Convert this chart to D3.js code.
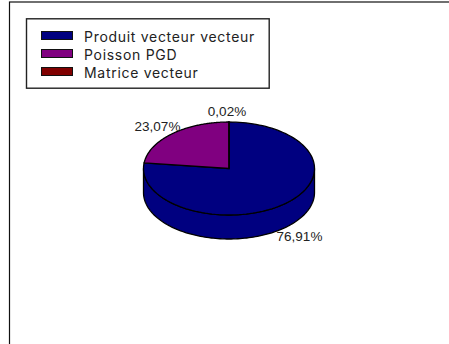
<!DOCTYPE html>
<html><head><meta charset="utf-8">
<script src="https://cdn.jsdelivr.net/npm/d3@7/dist/d3.min.js"></script>
<style>html,body{margin:0;padding:0;background:#fff}svg{display:block}</style>
</head><body><svg id="c" width="449" height="344"></svg>
<script>
const categories = ["Produit vecteur vecteur", "Poisson PGD", "Matrice vecteur"];
const seriesValues = [76.91, 23.07, 0.02];
const percentLabels = ["76,91%", "23,07%", "0,02%"];
const colors = ["#000080", "#800080", "#800000"];

const svg = d3.select("#c");
const font = "'Liberation Sans', Arial, sans-serif";
svg.append("rect").attr("x",9.5).attr("y",2).attr("width",445).attr("height",350)
  .attr("fill","#fff").attr("stroke","#111").attr("stroke-width",1.2);

// legend
const lg = svg.append("g");
lg.append("rect").attr("x",26.5).attr("y",18.8).attr("width",242.7).attr("height",69.4)
  .attr("fill","#fff").attr("stroke","#222").attr("stroke-width",1.4);
const ly = d3.scalePoint().domain(categories).range([35.5,71.5]);
categories.forEach((c,i)=>{
  lg.append("rect").attr("x",41.5).attr("y",ly(c)-4).attr("width",31).attr("height",8)
    .attr("fill",colors[i]).attr("stroke","#111");
  lg.append("text").attr("x",84).attr("y",ly(c)+6.3).attr("font-family","Inter, 'Liberation Sans', sans-serif")
    .attr("font-size",14).attr("letter-spacing",0.7).attr("fill","#222").text(c);
});

// pie
const cx=229, cy=168.5, rx=85.5, ry=46.5, depth=24;
const pie = d3.pie().sort(null).startAngle(0).endAngle(2*Math.PI);
const arcs = pie(seriesValues);
const pt = a => [cx+rx*Math.sin(a), cy-ry*Math.cos(a)];
const angles = a => d3.range(0,121).map(i=>a.startAngle+(a.endAngle-a.startAngle)*i/120);
const line = d3.line();
const front = d3.range(0,121).map(i=>Math.PI/2+Math.PI*i/120);
const wall = front.map(pt).concat(front.slice().reverse().map(a=>{const p=pt(a);return [p[0],p[1]+depth];}));
svg.append("path").attr("d",line(wall)+"Z").attr("fill",colors[0]).attr("stroke","#000").attr("stroke-width",1.3);
arcs.forEach((a,i)=>{
  const pts=[[cx,cy]].concat(angles(a).map(pt));
  svg.append("path").attr("d",line(pts)+"Z").attr("fill",colors[i]).attr("stroke","#000").attr("stroke-width",1.3);
});
// labels
const labelPos=[[299.5,240.5],[157.5,130.7],[227,115.7]];
percentLabels.forEach((t,i)=>{
  svg.append("text").attr("x",labelPos[i][0]).attr("y",labelPos[i][1]).attr("text-anchor","middle")
    .attr("font-family",font).attr("font-size",13.5).attr("fill","#222").text(t);
});
</script></body></html>
